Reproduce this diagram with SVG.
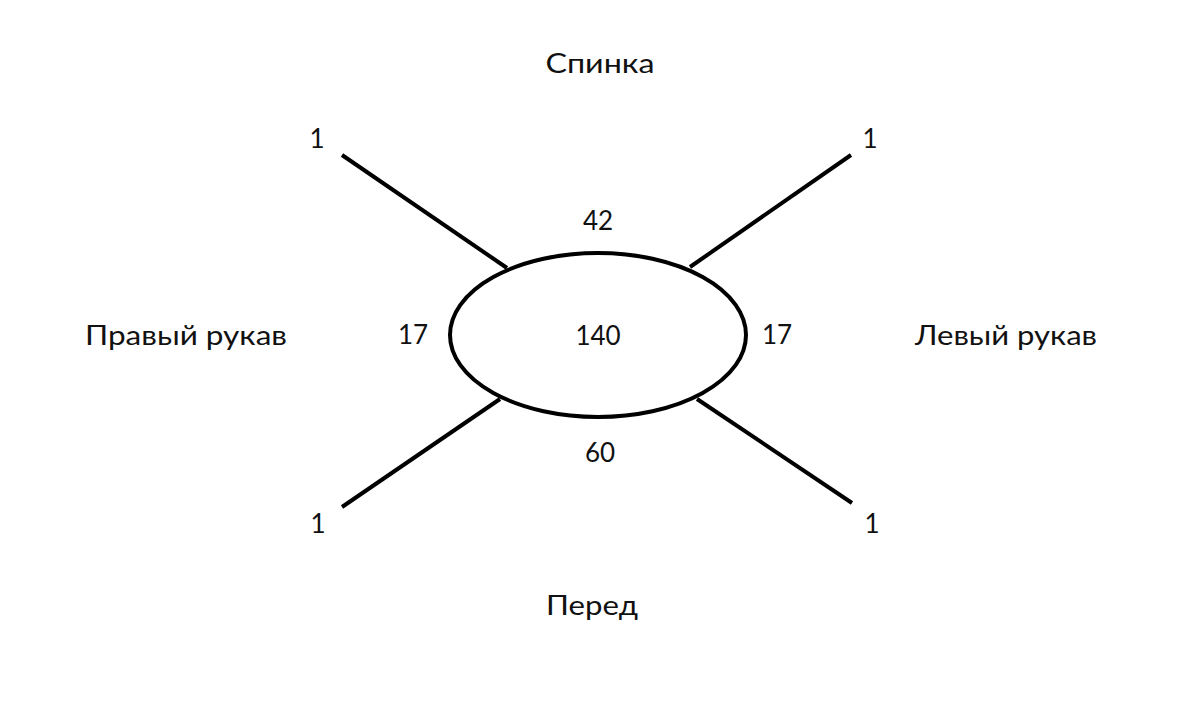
<svg xmlns="http://www.w3.org/2000/svg" width="1200" height="713" viewBox="0 0 1200 713">
<style>
text{font-family:"Lato","DejaVu Sans",sans-serif;font-size:26px;fill:#111;text-anchor:middle}
.ln{stroke:#000;stroke-width:4;fill:none}
</style>
<rect width="1200" height="713" fill="#fff"/>
<g id="connectors">
<line class="ln" x1="342" y1="155" x2="507" y2="268"/>
<line class="ln" x1="851" y1="155" x2="690" y2="267"/>
<line class="ln" x1="342" y1="507" x2="500" y2="399"/>
<line class="ln" x1="852" y1="503" x2="697" y2="399"/>
</g>
<g id="body">
<ellipse class="ln" cx="598" cy="335" rx="148" ry="82"/>
<text x="598" y="345">140</text>
</g>
<g id="labels">
<text x="600" y="73" textLength="109" lengthAdjust="spacingAndGlyphs">Спинка</text>
<text x="592" y="615" textLength="92" lengthAdjust="spacingAndGlyphs">Перед</text>
<text x="186" y="345" textLength="202" lengthAdjust="spacingAndGlyphs">Правый рукав</text>
<text x="1006" y="345" textLength="182" lengthAdjust="spacingAndGlyphs">Левый рукав</text>
<text x="598" y="230">42</text>
<text x="600" y="462">60</text>
<text x="413" y="344">17</text>
<text x="777" y="344">17</text>
<text x="317" y="148">1</text>
<text x="870" y="148">1</text>
<text x="318" y="533">1</text>
<text x="872" y="533">1</text>
</g>
</svg>
